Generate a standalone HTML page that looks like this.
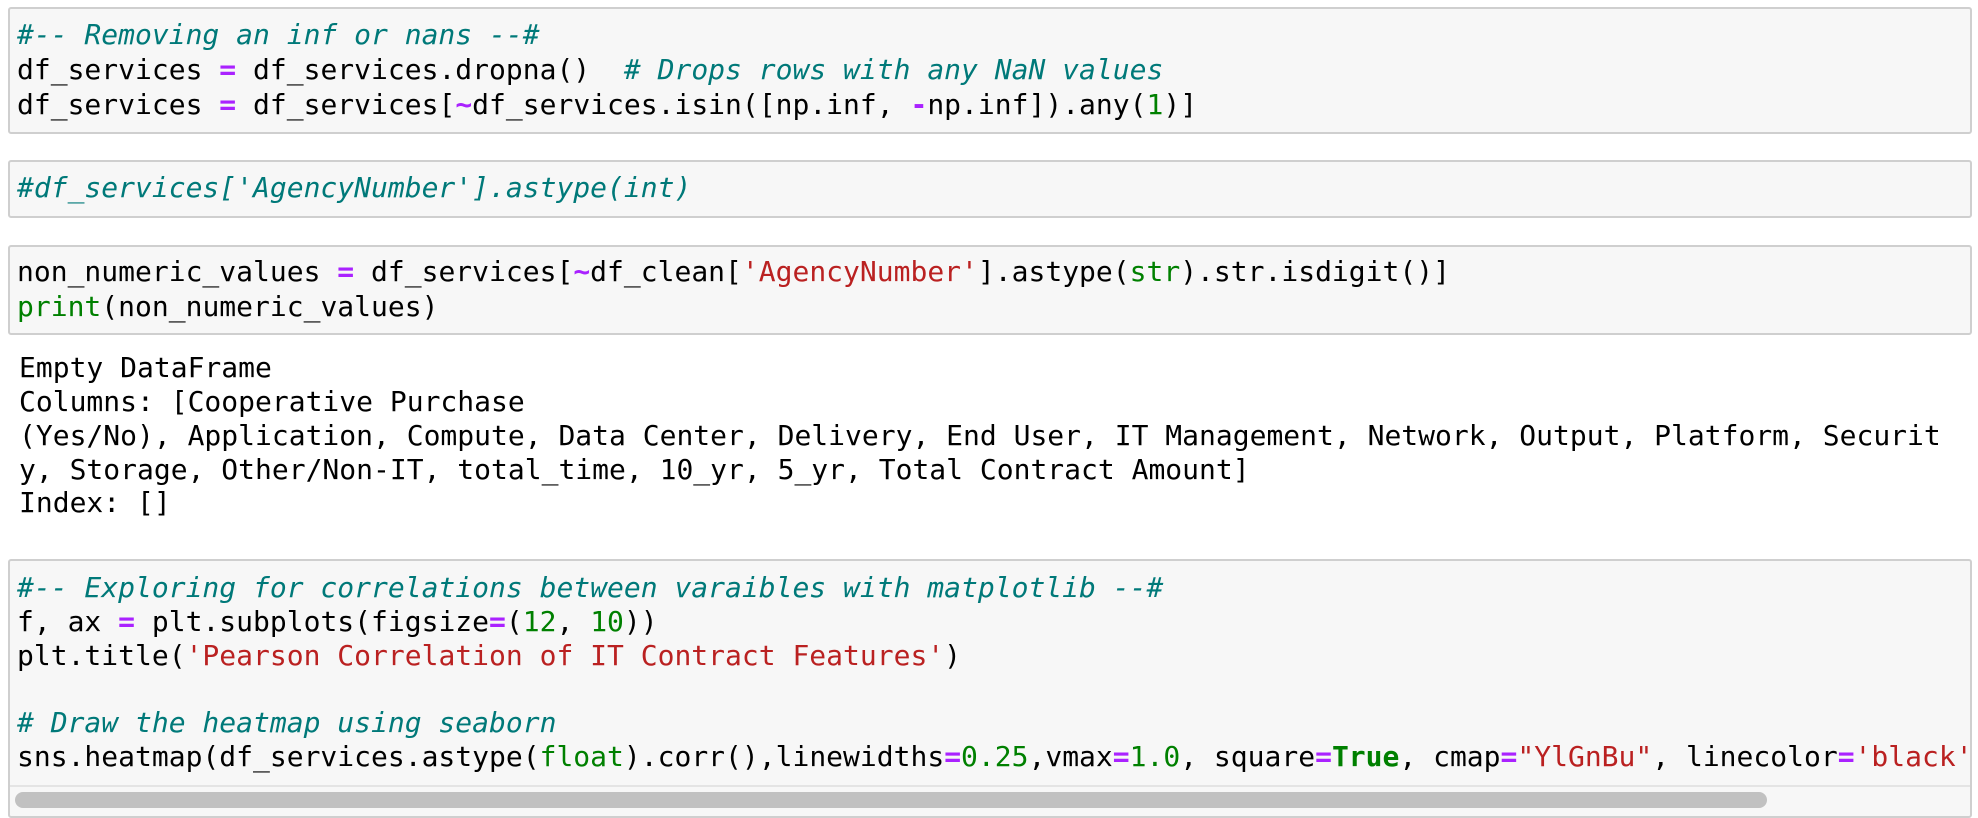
<!DOCTYPE html>
<html><head><meta charset="utf-8"><style>
html,body{margin:0;padding:0;background:#fff;width:1978px;height:818px;overflow:hidden;position:relative}
.box{position:absolute;left:8px;width:1964px;background:#f7f7f7;border:2px solid #cfcfcf;border-radius:3px;box-sizing:border-box;overflow:hidden}
.l{position:absolute;left:17px;height:34px;line-height:34px;font-family:"DejaVu Sans Mono","Liberation Mono",monospace;font-size:28px;white-space:pre;color:#000}
.c{color:#007979;font-style:italic}
.o{color:#aa22ff;font-weight:bold}
.s{color:#ba2121}
.n{color:#008000}
.k{color:#008000;font-weight:bold}
</style></head><body>
<div class="box" style="top:7px;height:127px"></div>
<div class="box" style="top:160px;height:58px"></div>
<div class="box" style="top:245px;height:90px"></div>
<div class="box" style="top:559px;height:259px">
  <div style="position:absolute;left:0;right:0;top:224px;height:2px;background:#e4e4e4"></div>
  <div style="position:absolute;left:5px;top:231px;width:1752px;height:16px;border-radius:8px;background:#c1c1c1"></div>
</div>

<div class="l" style="top:18px"><span class="c">#-- Removing an inf or nans --#</span></div>
<div class="l" style="top:53px">df_services <span class="o">=</span> df_services.dropna()  <span class="c"># Drops rows with any NaN values</span></div>
<div class="l" style="top:88px">df_services <span class="o">=</span> df_services[<span class="o">~</span>df_services.isin([np.inf, <span class="o">-</span>np.inf]).any(<span class="n">1</span>)]</div>

<div class="l" style="top:171px"><span class="c">#df_services['AgencyNumber'].astype(int)</span></div>

<div class="l" style="top:255px">non_numeric_values <span class="o">=</span> df_services[<span class="o">~</span>df_clean[<span class="s">'AgencyNumber'</span>].astype(<span class="n">str</span>).str.isdigit()]</div>
<div class="l" style="top:290px"><span class="n">print</span>(non_numeric_values)</div>

<div class="l" style="left:19px;top:351px">Empty DataFrame</div>
<div class="l" style="left:19px;top:385px">Columns: [Cooperative Purchase</div>
<div class="l" style="left:19px;top:419px">(Yes/No), Application, Compute, Data Center, Delivery, End User, IT Management, Network, Output, Platform, Securit</div>
<div class="l" style="left:19px;top:453px">y, Storage, Other/Non-IT, total_time, 10_yr, 5_yr, Total Contract Amount]</div>
<div class="l" style="left:19px;top:486px">Index: []</div>

<div class="l" style="top:571px"><span class="c">#-- Exploring for correlations between varaibles with matplotlib --#</span></div>
<div class="l" style="top:605px">f, ax <span class="o">=</span> plt.subplots(figsize<span class="o">=</span>(<span class="n">12</span>, <span class="n">10</span>))</div>
<div class="l" style="top:639px">plt.title(<span class="s">'Pearson Correlation of IT Contract Features'</span>)</div>
<div class="l" style="top:706px"><span class="c"># Draw the heatmap using seaborn</span></div>
<div class="l" style="top:740px;width:1950px;overflow:hidden">sns.heatmap(df_services.astype(<span class="n">float</span>).corr(),linewidths<span class="o">=</span><span class="n">0.25</span>,vmax<span class="o">=</span><span class="n">1.0</span>, square<span class="o">=</span><span class="k">True</span>, cmap<span class="o">=</span><span class="s">"YlGnBu"</span>, linecolor<span class="o">=</span><span class="s">'black'</span>, annot<span class="o">=</span><span class="k">True</span>)</div>
</body></html>
